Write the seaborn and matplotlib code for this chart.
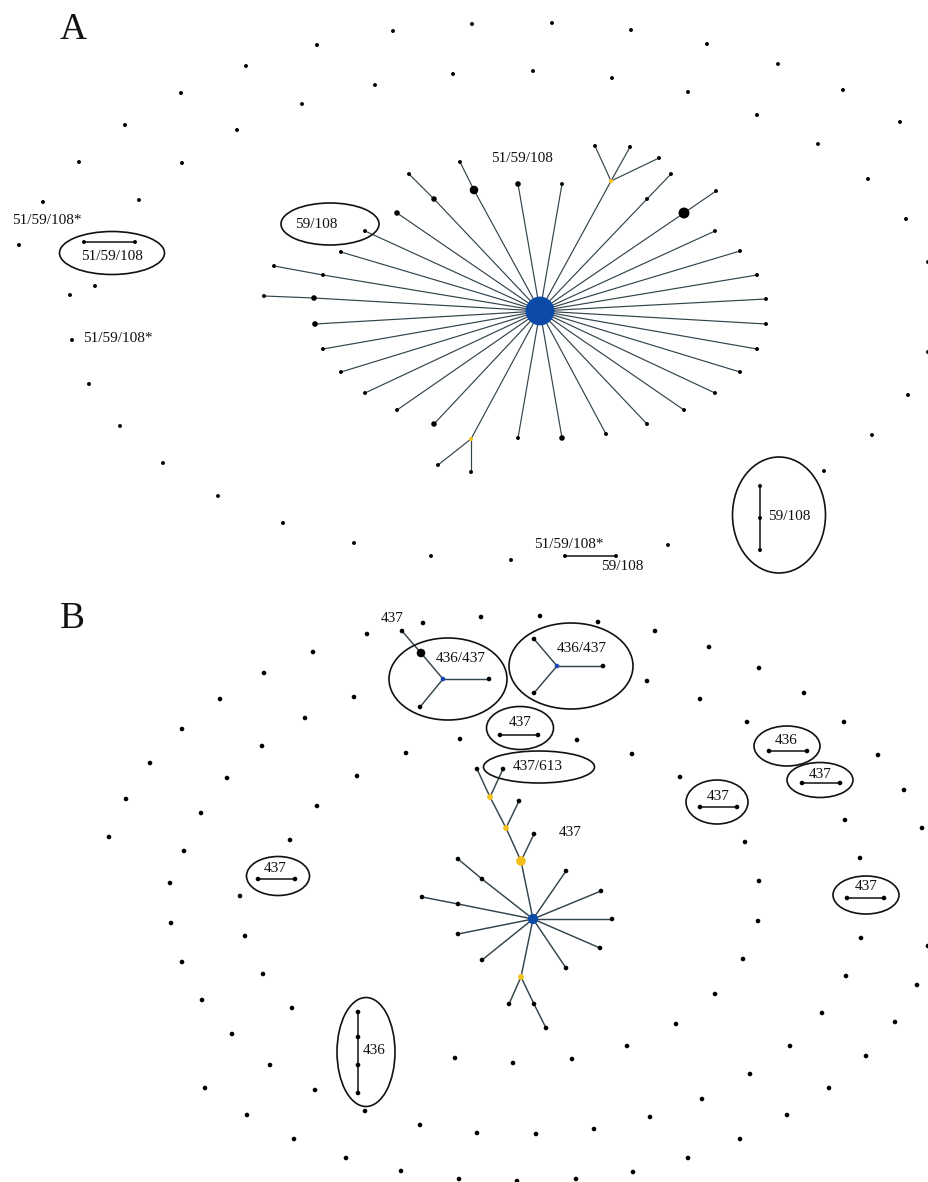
import matplotlib
matplotlib.use("Agg")
import matplotlib.pyplot as plt
from matplotlib.patches import Ellipse
import pandas as pd
import seaborn as sns

# ---------------- panel A (layout, pixel units) ----------------
hub_a = (540, 311)
spokes_a = [
    [(314, 298), (264, 296)], [(323, 275), (274, 266)], [(341, 252)], [(365, 231)],
    [(397, 213)], [(434, 199), (409, 174)], [(474, 190), (460, 162)], [(518, 184)],
    [(562, 184)], [(611, 181)], [(647, 199), (671, 174)], [(684, 213), (716, 191)],
    [(715, 231)], [(740, 251)], [(757, 275)], [(766, 299)], [(766, 324)], [(757, 349)],
    [(740, 372)], [(715, 393)], [(684, 410)], [(647, 424)], [(606, 434)], [(562, 438)],
    [(518, 438)], [(471, 439)], [(434, 424)], [(397, 410)], [(365, 393)], [(341, 372)],
    [(323, 349)], [(315, 324)],
]
branches_a = [
    [(611, 181), (595, 146)], [(611, 181), (630, 147)], [(611, 181), (659, 158)],
    [(471, 439), (438, 465)], [(471, 439), (471, 472)],
]
pairs_a = [
    [(84, 242), (135, 242)],
    [(565, 556), (616, 556)],
    [(760, 486), (760, 518), (760, 550)],
]
singles_a = [
    (246, 66), (181, 93), (302, 104), (125, 125), (237, 130), (79, 162), (182, 163),
    (43, 202), (139, 200), (19, 245), (95, 286), (70, 295), (72, 340), (89, 384),
    (120, 426), (163, 463), (218, 496), (283, 523), (354, 543), (431, 556), (511, 560),
    (668, 545), (824, 471), (872, 435), (908, 395), (928, 352), (928, 262), (906, 219),
    (868, 179), (818, 144), (900, 122), (757, 115), (843, 90), (778, 64), (688, 92),
    (707, 44), (631, 30), (612, 78), (552, 23), (533, 71), (472, 24), (453, 74),
    (393, 31), (375, 85), (317, 45),
]
kinds_a = {
    hub_a: "hub_a", (611, 181): "yellow", (471, 439): "yellow",
    (474, 190): "big", (684, 213): "bigger", (314, 298): "mid", (434, 199): "mid",
    (518, 184): "mid", (397, 213): "mid", (562, 438): "mid", (434, 424): "mid",
    (315, 324): "mid",
}

# ---------------- panel B ----------------
hub_b = (533, 919)
spokes_b = [
    [(458, 904), (422, 897)], [(458, 934)], [(482, 960)],
    [(521, 977), (534, 1004), (546, 1028)], [(566, 968)], [(600, 948)], [(612, 919)],
    [(601, 891)], [(566, 871)], [(521, 861), (506, 828), (490, 797), (477, 769)],
    [(482, 879), (458, 859)],
]
branches_b = [
    [(521, 977), (509, 1004)], [(521, 861), (534, 834)], [(506, 828), (519, 801)],
    [(490, 797), (503, 769)],
    [(443, 679), (421, 653), (402, 631)], [(443, 679), (489, 679)], [(443, 679), (420, 707)],
    [(557, 666), (534, 639)], [(557, 666), (603, 666)], [(557, 666), (534, 693)],
]
pairs_b = [
    [(500, 735), (538, 735)], [(769, 751), (807, 751)], [(802, 783), (840, 783)],
    [(700, 807), (737, 807)], [(847, 898), (884, 898)], [(258, 879), (295, 879)],
    [(358, 1012), (358, 1037), (358, 1065), (358, 1093)],
]
singles_b = [
    (264, 673), (220, 699), (305, 718), (182, 729), (262, 746), (150, 763), (227, 778),
    (126, 799), (201, 813), (109, 837), (184, 851), (290, 840), (170, 883),
    (423, 623), (481, 617), (540, 616), (598, 622), (313, 652), (367, 634), (354, 697),
    (460, 739), (577, 740), (406, 753), (357, 776), (317, 806),
    (655, 631), (709, 647), (759, 668), (647, 681), (804, 693), (700, 699), (747, 722),
    (844, 722), (632, 754), (878, 755), (680, 777), (904, 790), (845, 820), (922, 828),
    (745, 842), (860, 858), (759, 881),
    (240, 896), (171, 923), (245, 936), (182, 962), (263, 974), (202, 1000), (292, 1008),
    (232, 1034), (270, 1065), (205, 1088), (247, 1115), (294, 1139),
    (455, 1058), (513, 1063), (572, 1059), (315, 1090), (365, 1111), (420, 1125),
    (477, 1133), (536, 1134), (594, 1129), (346, 1158), (401, 1171), (459, 1179),
    (517, 1181), (576, 1179),
    (758, 921), (861, 938), (928, 946), (743, 959), (846, 976), (917, 985), (715, 994),
    (822, 1013), (895, 1022), (676, 1024), (627, 1046), (790, 1046), (866, 1056),
    (750, 1074), (829, 1088), (702, 1099), (650, 1117), (787, 1115), (740, 1139),
    (688, 1158), (633, 1172),
]
kinds_b = {
    hub_b: "hub_b", (443, 679): "blue", (557, 666): "blue", (421, 653): "big",
    (521, 861): "yellow_big", (506, 828): "yellow_mid", (490, 797): "yellow_mid",
    (521, 977): "yellow_mid",
}

# ellipses: centre x, centre y, width, height
ellipses = [
    (112, 253, 105, 43), (330, 224, 98, 42), (779, 515, 93, 116),
    (448, 679, 118, 82), (571, 666, 124, 86), (520, 728, 67, 43), (539, 767, 111, 32),
    (787, 746, 66, 40), (820, 780, 66, 35), (717, 802, 62, 44), (866, 895, 66, 38),
    (278, 876, 63, 39), (366, 1052, 58, 109),
]
labels = [
    (12, 221, "51/59/108*", "left"), (112, 257, "51/59/108", "center"),
    (316, 225, "59/108", "center"), (83, 338, "51/59/108*", "left"),
    (522, 159, "51/59/108", "center"), (569, 545, "51/59/108*", "center"),
    (622, 566, "59/108", "center"), (768, 517, "59/108", "left"),
    (392, 618, "437", "center"), (461, 659, "436/437", "center"),
    (582, 649, "436/437", "center"), (520, 723, "437", "center"),
    (538, 767, "437/613", "center"), (570, 833, "437", "center"),
    (786, 741, "436", "center"), (820, 774, "437", "center"),
    (718, 796, "437", "center"), (866, 887, "437", "center"),
    (275, 868, "437", "center"), (363, 1051, "436", "left"),
]
panel_letters = [(73, 30, "A"), (72, 619, "B")]

node_sizes = {"dot_a": 8, "dot_b": 11, "mid": 16, "big": 38, "bigger": 62,
              "hub_a": 430, "hub_b": 55, "blue": 11, "yellow": 9,
              "yellow_mid": 18, "yellow_big": 48}
node_colors = {"dot_a": "black", "dot_b": "black", "mid": "black", "big": "black",
               "bigger": "black", "hub_a": "#0b4aa6", "hub_b": "#0b4aa6",
               "blue": "#1846b8", "yellow": "#f4c21a", "yellow_mid": "#f4c21a",
               "yellow_big": "#f4bf1a"}


def build(hub, spokes, branches, pairs, singles, kinds, dot_kind, spoke_style):
    edge_rows, node_rows = [], []
    paths = [([hub] + s, spoke_style) for s in spokes]
    paths += [(b, spoke_style) for b in branches]
    paths += [(p, "pair") for p in pairs]
    seen = set()
    for path, style in paths:
        eid = len(edge_rows) and edge_rows[-1]["edge"] + 1 or 0
        for (x, y) in path:
            edge_rows.append({"edge": eid, "x": x, "y": y, "style": style})
            if (x, y) not in seen:
                seen.add((x, y))
                node_rows.append({"x": x, "y": y, "kind": kinds.get((x, y), dot_kind)})
    for (x, y) in singles:
        node_rows.append({"x": x, "y": y, "kind": dot_kind})
    return pd.DataFrame(edge_rows), pd.DataFrame(node_rows)


edges_a, nodes_a = build(hub_a, spokes_a, branches_a, pairs_a, singles_a, kinds_a, "dot_a", "spoke_a")
edges_b, nodes_b = build(hub_b, spokes_b, branches_b, pairs_b, singles_b, kinds_b, "dot_b", "spoke_b")
edges_b["edge"] += edges_a["edge"].max() + 1
edges = pd.concat([edges_a, edges_b], ignore_index=True)
nodes = pd.concat([nodes_a, nodes_b], ignore_index=True)
# draw the hubs last so they sit on top of their spokes
nodes["order"] = nodes["kind"].map(lambda k: 1 if k.startswith("hub") else 0)
nodes = nodes.sort_values("order", kind="stable")

sns.set_style("white")
plt.rcParams["font.family"] = ["Liberation Serif", "DejaVu Serif"]

fig = plt.figure(figsize=(9.29, 11.82), dpi=100)
ax = fig.add_axes([0, 0, 1, 1])

sns.lineplot(data=edges, x="x", y="y", units="edge", estimator=None, sort=False,
             hue="style", size="style",
             palette={"spoke_a": "#33444c", "spoke_b": "#33444c", "pair": "#111111"},
             sizes={"spoke_a": 0.85, "spoke_b": 1.05, "pair": 1.1},
             legend=False, ax=ax, zorder=1)

sns.scatterplot(data=nodes, x="x", y="y", hue="kind", size="kind",
                palette=node_colors, sizes=node_sizes, linewidth=0,
                legend=False, ax=ax, zorder=3)

for cx, cy, w, h in ellipses:
    ax.add_patch(Ellipse((cx, cy), w, h, fill=False, edgecolor="#111111", lw=1.2, zorder=2))

for x, y, txt, ha in labels:
    ax.text(x, y, txt, ha=ha, va="center", fontsize=11, color="#111111", zorder=4)

for x, y, txt in panel_letters:
    ax.text(x, y, txt, ha="center", va="center", fontsize=27, color="#111111")

ax.set_xlim(0, 929)
ax.set_ylim(1182, 0)
ax.axis("off")

fig.savefig("out.png", dpi=100, facecolor="white")
